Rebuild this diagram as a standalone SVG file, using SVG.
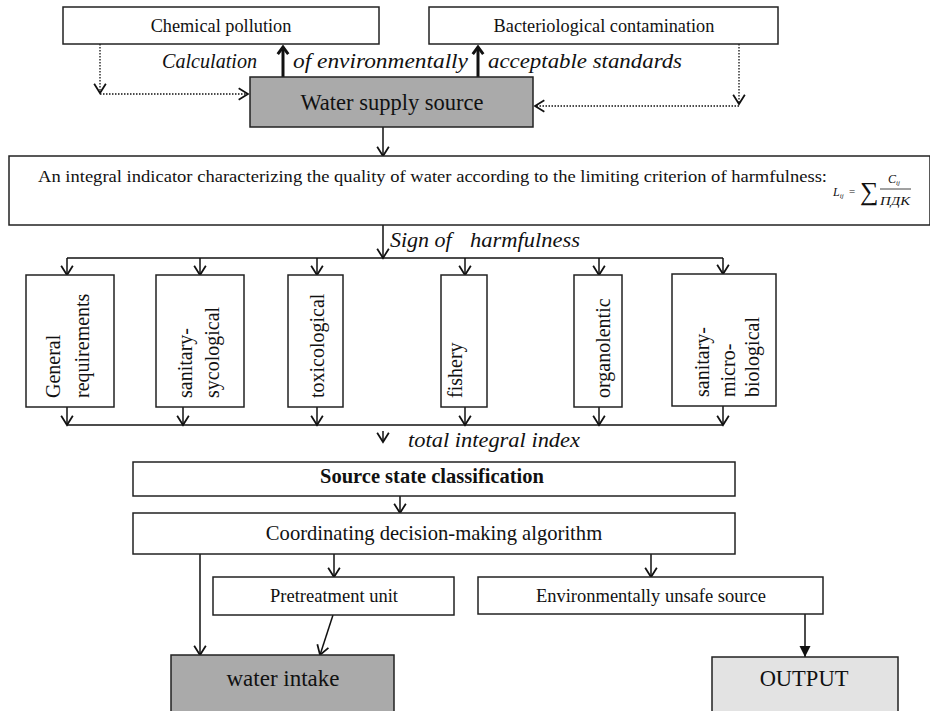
<svg xmlns="http://www.w3.org/2000/svg" width="930" height="711" viewBox="0 0 930 711">
<defs>
<marker id="open" markerWidth="14" markerHeight="14" refX="0" refY="0" viewBox="-10 -6 12 12" orient="auto" markerUnits="userSpaceOnUse">
<path d="M-8,-5 L0,0 L-8,5" fill="none" stroke="#111" stroke-width="1.5"/>
</marker>
<marker id="filled" markerWidth="14" markerHeight="14" refX="0" refY="0" viewBox="-12 -7 13 14" orient="auto" markerUnits="userSpaceOnUse">
<path d="M-11,-5.5 L0,0 L-11,5.5 Z" fill="#111"/>
</marker>
<marker id="thickup" markerWidth="14" markerHeight="14" refX="0" refY="0" viewBox="-8 -6 10 12" orient="auto" markerUnits="userSpaceOnUse">
<path d="M-6,-4.5 L0,0 L-6,4.5" fill="none" stroke="#111" stroke-width="2.5"/>
</marker>
</defs>
<style>
.box{fill:#fff;stroke:#222;stroke-width:1.5}
.dark{fill:#aaaaaa;stroke:#222;stroke-width:1.5}
.light{fill:#e3e3e3;stroke:#222;stroke-width:1.5}
.t{font-family:"Liberation Serif","Times New Roman",serif;fill:#111}
.c{text-anchor:middle}
.i{font-style:italic}
.ln{stroke:#111;stroke-width:1.5;fill:none}
.dot{stroke:#111;stroke-width:1.3;fill:none;stroke-dasharray:1.5 1.5}
.thick{stroke:#111;stroke-width:3;fill:none}
</style>
<rect width="930" height="711" fill="#fff"/>

<g id="connectors">
<line class="thick" x1="283" y1="77" x2="283" y2="47" marker-end="url(#thickup)"/>
<line class="thick" x1="478" y1="77" x2="478" y2="47" marker-end="url(#thickup)"/>
<polyline class="dot" points="100,44 100,93" marker-end="url(#open)"/>
<polyline class="dot" points="100,94 248,94" marker-end="url(#open)"/>
<polyline class="dot" points="739,44 739,104" marker-end="url(#open)"/>
<polyline class="dot" points="739,106 535,106" marker-end="url(#open)"/>
<line class="ln" x1="383" y1="127" x2="383" y2="156" marker-end="url(#open)"/>
<line class="ln" x1="383" y1="225" x2="383" y2="258" marker-end="url(#open)"/>
<polyline class="ln" points="67,258 723,258"/>
<line class="ln" x1="67" y1="258" x2="67" y2="275" marker-end="url(#open)"/>
<line class="ln" x1="200" y1="258" x2="200" y2="275" marker-end="url(#open)"/>
<line class="ln" x1="317" y1="258" x2="317" y2="275" marker-end="url(#open)"/>
<line class="ln" x1="465" y1="258" x2="465" y2="275" marker-end="url(#open)"/>
<line class="ln" x1="599" y1="258" x2="599" y2="275" marker-end="url(#open)"/>
<line class="ln" x1="723" y1="258" x2="723" y2="274" marker-end="url(#open)"/>
<line class="ln" x1="67" y1="407" x2="67" y2="425" marker-end="url(#open)"/>
<line class="ln" x1="183" y1="407" x2="183" y2="425" marker-end="url(#open)"/>
<line class="ln" x1="317" y1="407" x2="317" y2="425" marker-end="url(#open)"/>
<line class="ln" x1="465" y1="407" x2="465" y2="425" marker-end="url(#open)"/>
<line class="ln" x1="599" y1="407" x2="599" y2="425" marker-end="url(#open)"/>
<line class="ln" x1="723" y1="406" x2="723" y2="425" marker-end="url(#open)"/>
<polyline class="ln" points="67,425 723,425"/>
<line class="ln" x1="383" y1="431" x2="383" y2="442" marker-end="url(#open)"/>
<line class="ln" x1="400" y1="496" x2="400" y2="513" marker-end="url(#open)"/>
<line class="ln" x1="200" y1="554" x2="200" y2="655" marker-end="url(#open)"/>
<line class="ln" x1="334" y1="554" x2="334" y2="577" marker-end="url(#open)"/>
<line class="ln" x1="651" y1="554" x2="651" y2="577" marker-end="url(#open)"/>
<line class="ln" x1="333" y1="615" x2="320" y2="655" marker-end="url(#open)"/>
<line class="ln" x1="805" y1="614" x2="805" y2="657" stroke-width="2" marker-end="url(#filled)"/>
</g>

<g id="chemical">
<rect class="box" x="63" y="7" width="316" height="37"/>
<text class="t c" x="221" y="32" font-size="18.3">Chemical pollution</text>
</g>
<g id="bacteriological">
<rect class="box" x="429" y="7" width="349" height="37"/>
<text class="t c" x="604" y="32" font-size="18.3">Bacteriological contamination</text>
</g>
<g id="calc-label">
<text class="t i" x="162" y="68" font-size="21.5" textLength="95" lengthAdjust="spacingAndGlyphs">Calculation</text>
<text class="t i" x="293" y="68" font-size="22" textLength="175" lengthAdjust="spacingAndGlyphs">of environmentally</text>
<text class="t i" x="488" y="68" font-size="22" textLength="194" lengthAdjust="spacingAndGlyphs">acceptable standards</text>
</g>
<g id="water-source">
<rect class="dark" x="250" y="77" width="283" height="50"/>
<text class="t c" x="392" y="110" font-size="22.5">Water supply source</text>
</g>
<g id="integral">
<rect class="box" x="9" y="156" width="921" height="69"/>
<text class="t" x="38" y="182" font-size="16.5" textLength="789" lengthAdjust="spacingAndGlyphs">An integral indicator characterizing the quality of water according to the limiting criterion of harmfulness:</text>
<text class="t i" x="833" y="196" font-size="12">L<tspan font-size="7" dy="2">ij</tspan></text>
<text class="t" x="849" y="195" font-size="11">=</text>
<text class="t" x="860" y="200" font-size="26">∑</text>
<text class="t i" x="888" y="183" font-size="12">C<tspan font-size="7" dy="2">ij</tspan></text>
<line x1="880" y1="189" x2="911" y2="189" stroke="#111" stroke-width="0.8"/>
<text class="t i" x="880" y="205" font-size="12" textLength="30" lengthAdjust="spacingAndGlyphs">ПДК</text>
</g>
<g id="sign-label">
<text class="t i" x="390" y="247" font-size="22">Sign of</text>
<text class="t i" x="470" y="247" font-size="22" textLength="110" lengthAdjust="spacingAndGlyphs">harmfulness</text>
</g>
<g id="general">
<rect class="box" x="26" y="275" width="88" height="132"/>
<text class="t" transform="translate(60,398) rotate(-90)" font-size="20">General</text>
<text class="t" transform="translate(89,398) rotate(-90)" font-size="20">requirements</text>
</g>
<g id="sanitary-sycological">
<rect class="box" x="156" y="275" width="88" height="132"/>
<text class="t" transform="translate(192,398) rotate(-90)" font-size="20">sanitary-</text>
<text class="t" transform="translate(219,398) rotate(-90)" font-size="20">sycological</text>
</g>
<g id="toxicological">
<rect class="box" x="288" y="275" width="55" height="132"/>
<text class="t" transform="translate(324,398) rotate(-90)" font-size="20">toxicological</text>
</g>
<g id="fishery">
<rect class="box" x="441" y="275" width="46" height="132"/>
<text class="t" transform="translate(462,398) rotate(-90)" font-size="20">fishery</text>
</g>
<g id="organolentic">
<rect class="box" x="574" y="275" width="48" height="132"/>
<text class="t" transform="translate(610,398) rotate(-90)" font-size="20">organolentic</text>
</g>
<g id="sanitary-micro">
<rect class="box" x="672" y="274" width="104" height="132"/>
<text class="t" transform="translate(709,397) rotate(-90)" font-size="20">sanitary-</text>
<text class="t" transform="translate(735,397) rotate(-90)" font-size="20">micro-</text>
<text class="t" transform="translate(759,397) rotate(-90)" font-size="20">biological</text>
</g>
<g id="total-label">
<text class="t i" x="408" y="447" font-size="22" textLength="172" lengthAdjust="spacingAndGlyphs">total integral index</text>
</g>
<g id="classification">
<rect class="box" x="133" y="462" width="602" height="34"/>
<text class="t c" x="432" y="483" font-size="20.5" font-weight="bold">Source state classification</text>
</g>
<g id="coordinating">
<rect class="box" x="133" y="513" width="602" height="41"/>
<text class="t c" x="434" y="540" font-size="20.6">Coordinating decision-making algorithm</text>
</g>
<g id="pretreatment">
<rect class="box" x="213" y="577" width="241" height="38"/>
<text class="t c" x="334" y="602" font-size="18.5">Pretreatment unit</text>
</g>
<g id="unsafe">
<rect class="box" x="478" y="577" width="345" height="37"/>
<text class="t c" x="651" y="602" font-size="18.5">Environmentally unsafe source</text>
</g>
<g id="water-intake">
<rect class="dark" x="171" y="655" width="223" height="60"/>
<text class="t c" x="283" y="686" font-size="23">water intake</text>
</g>
<g id="output">
<rect class="light" x="712" y="657" width="186" height="60"/>
<text class="t c" x="804" y="686" font-size="22.5">OUTPUT</text>
</g>
</svg>
